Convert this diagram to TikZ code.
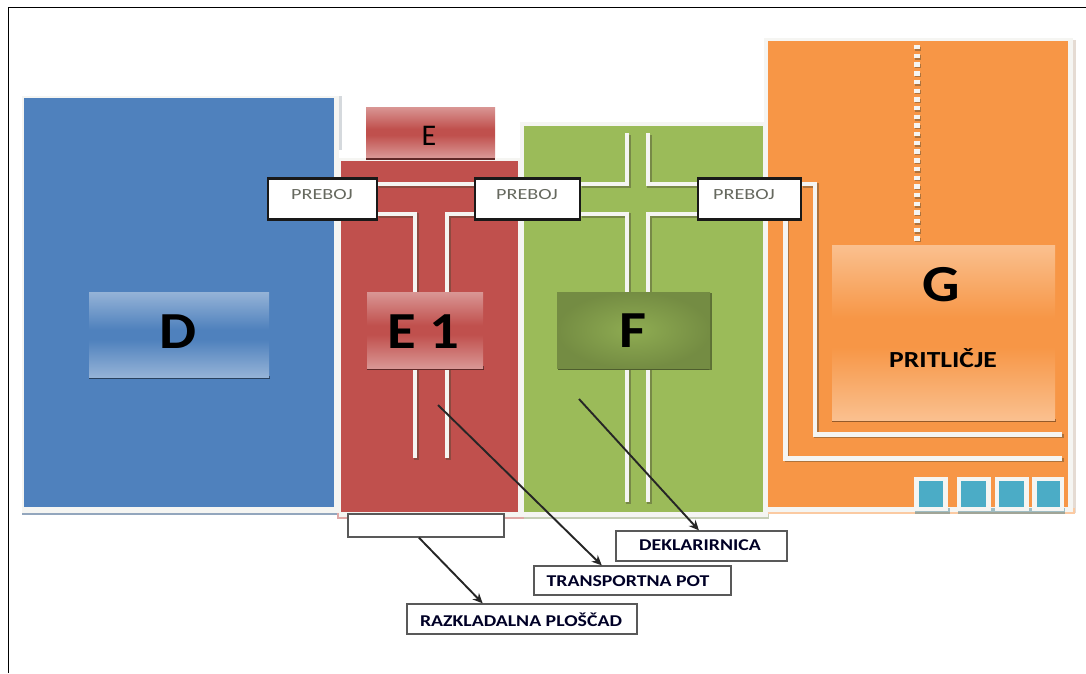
\documentclass[tikz,border=0pt]{standalone}
\usepackage{fontspec}
\setmainfont{Carlito}
\newfontfamily\widea[FakeStretch=1.13]{Carlito}
\newfontfamily\wideb[FakeStretch=1.2]{Carlito}
\newfontfamily\widec[FakeStretch=1.3]{Carlito}
\usetikzlibrary{calc,arrows.meta}
\definecolor{bluez}{HTML}{4F81BD}
\definecolor{redz}{HTML}{C0504D}
\definecolor{greenz}{HTML}{9BBB59}
\definecolor{orangez}{HTML}{F79646}
\definecolor{tealz}{HTML}{4BACC6}
\definecolor{chanw}{HTML}{F5F5F2}
\definecolor{glossbluel}{HTML}{95B3D7}
\definecolor{glossredl}{HTML}{D99694}
\definecolor{glossorl}{HTML}{FAC08F}
\definecolor{prebojc}{HTML}{66695F}
\pgfdeclareverticalshading{glossblue}{100bp}{color(0bp)=(glossbluel);color(25bp)=(glossbluel);color(47bp)=(bluez);color(53bp)=(bluez);color(75bp)=(glossbluel);color(100bp)=(glossbluel)}
\pgfdeclareverticalshading{glossred}{100bp}{color(0bp)=(glossredl);color(25bp)=(glossredl);color(47bp)=(redz);color(53bp)=(redz);color(75bp)=(glossredl);color(100bp)=(glossredl)}
\pgfdeclareverticalshading{glossor}{100bp}{color(0bp)=(glossorl);color(25bp)=(glossorl);color(46bp)=(orangez);color(54bp)=(orangez);color(75bp)=(glossorl);color(100bp)=(glossorl)}
\tikzset{
  x=1pt,y=-1pt,
  zonewhite/.style={fill=chanw},
  chanpath/.style={draw=chanw,line width=4.8pt,line cap=butt,line join=miter},
  chanshadow/.style={draw=black!70!olive,opacity=.4,line width=4.8pt,line join=miter},
  bigcap/.style={inner sep=0pt,font=\widea\bfseries\fontsize{52}{52}\selectfont,text=black},
  preboj/.style={draw=black!90,line width=2.2pt,fill=white,inner sep=0pt,minimum width=#1,minimum height=41pt},
  prebojtext/.style={inner sep=0pt,font=\widec\fontsize{15.5}{15.5}\selectfont,text=prebojc},
  labbox/.style={draw=black!65,line width=1.3pt,fill=white,inner sep=0pt},
  labtext/.style={inner sep=0pt,font=\wideb\bfseries\fontsize{16.5}{16.5}\selectfont,text=black!85!blue},
  pointer/.style={draw=black!85,line width=1.9pt,-{Stealth[length=10pt,width=9pt]}},
  cell/.style={draw=chanw,line width=4.5pt,fill=tealz,inner sep=0pt}
}
\newcommand{\chan}[1]{\draw[chanshadow,shift={(1.5,1.5)}] #1;\draw[chanpath] #1;}
\begin{document}
\begin{tikzpicture}
\useasboundingbox (0,0) rectangle (1086,673);
\fill[white] (0,0) rectangle (1086,673);
% page frame
\draw[black,line width=1.6pt] (8.5,673) -- (8.5,7.5) -- (1086,7.5);
% shadows of zones
\fill[bluez!55!gray!70] (22,507) rectangle (340,514.5);
\fill[bluez!25!gray!30] (339,96) rectangle (342,150);
\fill[redz!50!white] (337,512) rectangle (524,519);
\fill[greenz!50!gray!50] (524,512) rectangle (769,519);
\fill[orangez!35!gray!30] (1068,40) rectangle (1076,513);
\fill[orangez!50!white] (764,508) rectangle (1075,513.5);
% white borders and zones
\fill[zonewhite] (22,96) rectangle (339,513);
\fill[bluez] (24,98) rectangle (334,507);
\fill[zonewhite] (339,158) rectangle (523,517);
\fill[redz] (341,161) rectangle (518,512);
\fill[zonewhite] (520,122) rectangle (768,517);
\fill[greenz] (524,126) rectangle (763,512);
\fill[zonewhite] (764,38) rectangle (1073,512);
\fill[orangez] (768,41) rectangle (1067.5,507);
% channels in E1
\chan{(377,184) -- (475,184)}
\chan{(377,214) -- (415,214) -- (415,458)}
\chan{(475,214) -- (447,214) -- (447,458)}
% channels in F
\chan{(580,184) -- (627,184) -- (627,133)}
\chan{(698,184) -- (648,184) -- (648,133)}
\chan{(580,214) -- (627,214) -- (627,502)}
\chan{(698,214) -- (648,214) -- (648,502)}
% channels in G
\chan{(801,184) -- (815,184) -- (815,434.5) -- (1062,434.5)}
\chan{(785.5,214) -- (785.5,458.5) -- (1062,458.5)}
% dotted line in G
\draw[chanshadow,shift={(0.8,1.5)},line width=6pt,dash pattern=on 4.4pt off 4.3pt] (917,45) -- (917,241);
\draw[chanpath,line width=6pt,dash pattern=on 4.4pt off 4.3pt] (917,45) -- (917,241);
% cells
\fill[black!30!tealz,opacity=.45] (915,508) rectangle (950,513.5);
\fill[black!30!tealz,opacity=.45] (958,508) rectangle (1065,513.5);
\node[cell,minimum width=29pt,minimum height=30pt] (c1) at (931,494) {};
\node[cell,minimum width=29.5pt,minimum height=30pt] (c2) at (973.5,494) {};
\node[cell,minimum width=29.5pt,minimum height=30pt] (c3) at (1011.5,494) {};
\node[cell,minimum width=27.5pt,minimum height=30pt] (c4) at (1048,494) {};
% inner shaded boxes
\fill[bluez!50!black] (89,376) rectangle (269.5,379);
\node[shading=glossblue,minimum width=180pt,minimum height=85pt,inner sep=0pt] (d) at (179,334.5) {};
\node[bigcap] (dt) at (178,332) {D};
\fill[redz!50!black] (367,366) rectangle (484,369.5);
\node[shading=glossred,minimum width=116pt,minimum height=76pt,inner sep=0pt] (e1) at (425,330) {};
\node[bigcap] (e1t) at (423,332) {E 1};
\fill[redz!50!black] (366,156) rectangle (495,159.5);
\node[shading=glossred,minimum width=129pt,minimum height=50pt,inner sep=0pt] (e) at (430.5,132) {};
\node[inner sep=0pt,font=\fontsize{30}{30}\selectfont,text=black] (et) at (429,136) {E};
\fill[greenz!50!black] (558,366) rectangle (711,370);
\fill[greenz!60!black] (709,293) rectangle (711.5,370);
\node[inner color=greenz!92!black,outer color=greenz!75!black,shading=radial,minimum width=153pt,minimum height=76pt,inner sep=0pt] (f) at (633.5,330) {};
\node[bigcap] (ft) at (633,331) {F};
\fill[orangez!60!black] (832,419) rectangle (1056,422);
\node[shading=glossor,minimum width=223pt,minimum height=175pt,inner sep=0pt] (g) at (943.5,332.5) {};
\node[bigcap] (gt) at (941,285) {G};
\node[inner sep=0pt,font=\wideb\bfseries\fontsize{23}{23}\selectfont,text=black] (pr) at (943,358) {PRITLIČJE};
% preboj labels
\node[preboj=109pt] (p1) at (322.5,199) {};
\node[prebojtext] (p1t) at (322,195) {PREBOJ};
\node[preboj=105pt] (p2) at (527.5,199) {};
\node[prebojtext] (p2t) at (527,195) {PREBOJ};
\node[preboj=103pt] (p3) at (749.5,199) {};
\node[prebojtext] (p3t) at (744,195) {PREBOJ};
% bottom labels
\node[labbox,minimum width=156pt,minimum height=23pt] (plat) at (426,525.5) {};
\node[labbox,minimum width=171pt,minimum height=30pt] (dekl) at (701.5,546) {};
\node[labtext] (deklt) at (700,545.5) {DEKLARIRNICA};
\node[labbox,minimum width=197pt,minimum height=29pt] (tran) at (632.5,580.5) {};
\node[labtext] (trant) at (628,581) {TRANSPORTNA POT};
\node[labbox,minimum width=230pt,minimum height=30pt] (razk) at (522,619) {};
\node[labtext] (razkt) at (521,619.5) {RAZKLADALNA PLOŠČAD};
% pointers
\coordinate (ps) at ($(plat.south west)!.455!(plat.south east)$);
\coordinate (pe) at ($(razk.north west)!.33!(razk.north east)$);
\coordinate (ts) at (438,405);
\coordinate (te) at ($(tran.north west)!.345!(tran.north east)$);
\coordinate (ds) at (579,399);
\coordinate (de) at ($(dekl.north west)!.485!(dekl.north east)$);
\draw[pointer] (ps) -- (pe);
\draw[pointer] (ts) -- (te);
\draw[pointer] (ds) -- (de);
\end{tikzpicture}
\end{document}
